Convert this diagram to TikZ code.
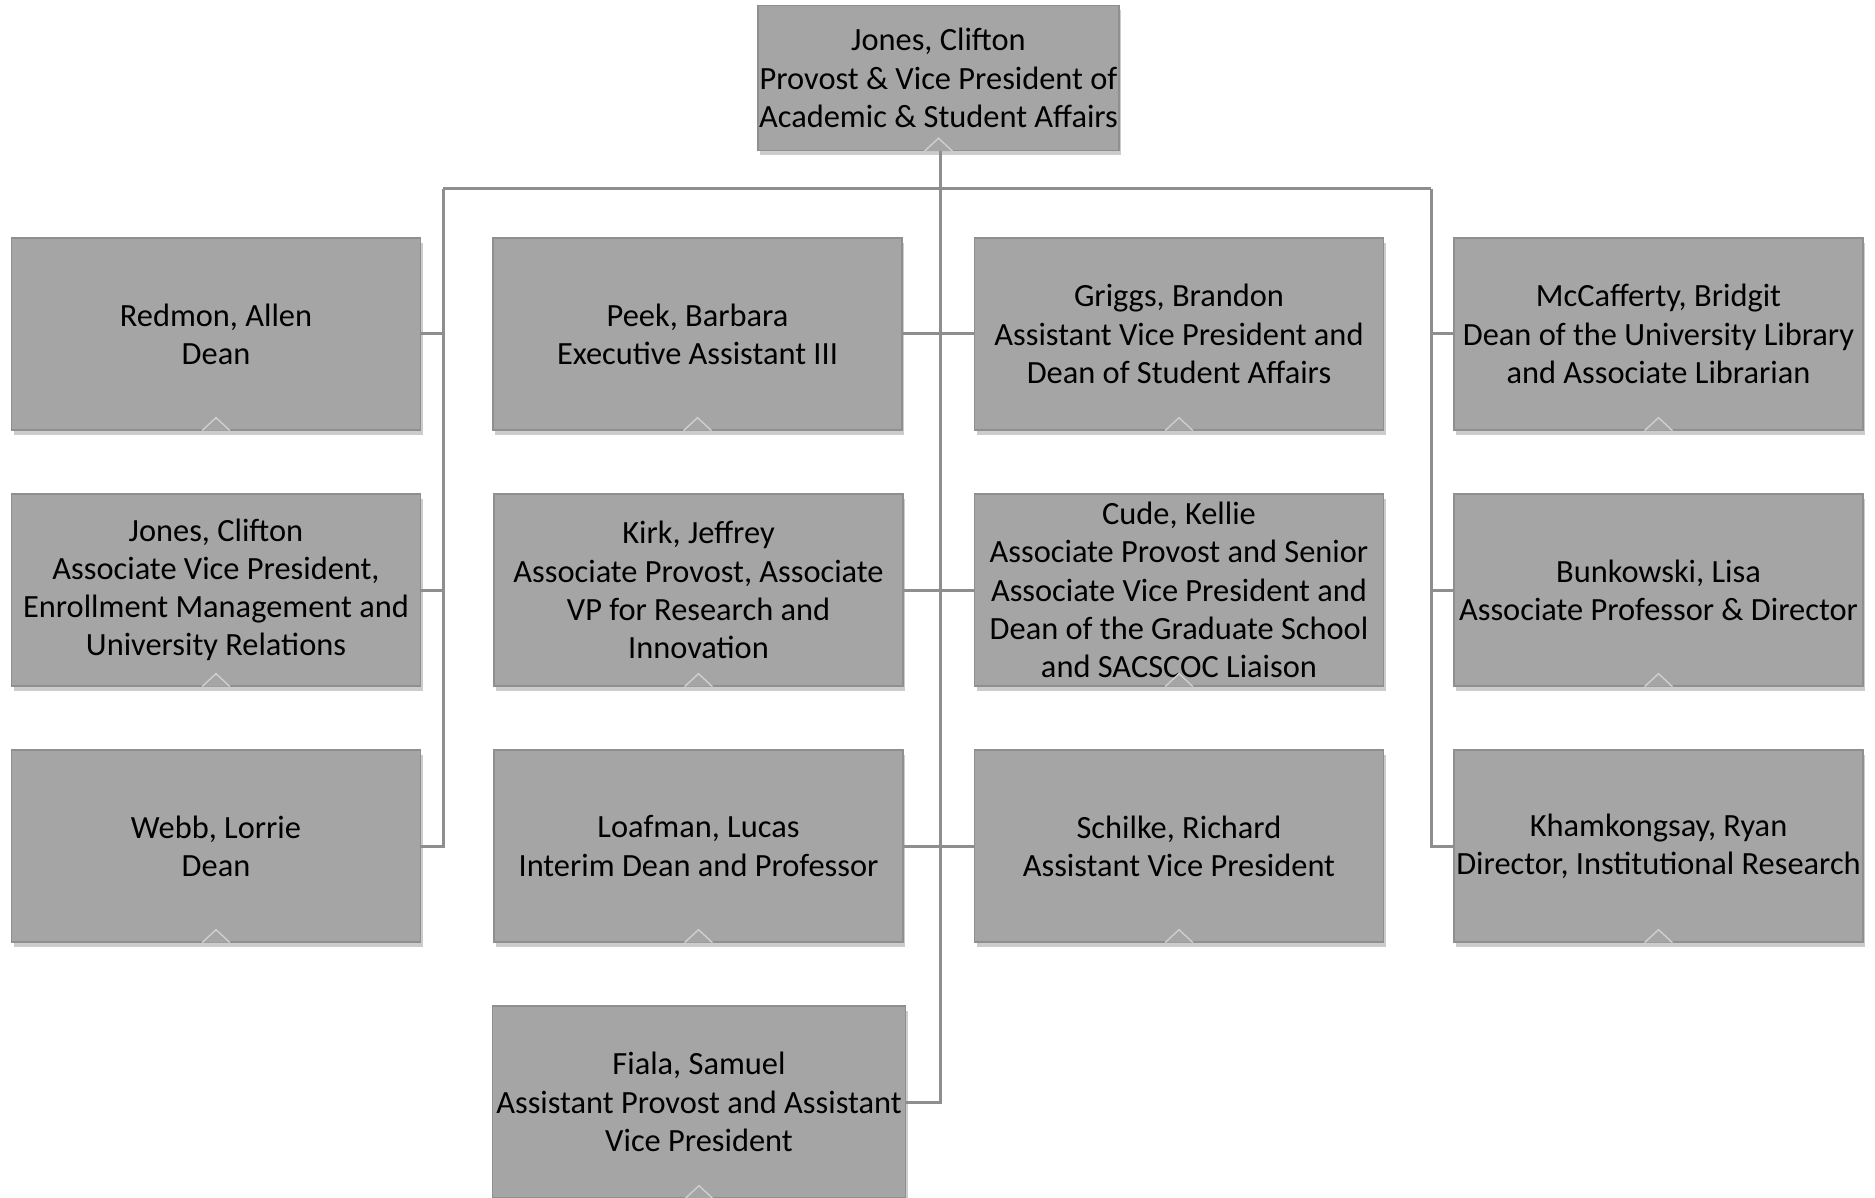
\documentclass[tikz,border=0pt]{standalone}
\usepackage{fontspec}
\setmainfont{Carlito}
\usetikzlibrary{shadows}
\definecolor{boxfill}{HTML}{A5A5A5}
\definecolor{boxline}{HTML}{8F8F8F}
\definecolor{linkgray}{HTML}{8E8E8E}
\definecolor{notchline}{HTML}{CFCFCF}

\begin{document}
\begin{tikzpicture}[x=0.5pt, y=-0.5pt,
    person/.style={draw=boxline, fill=boxfill, line width=0.7pt, inner sep=0pt,
        minimum width=204.5pt, minimum height=96pt, align=center,
        font=\fontsize{16.2}{19.1}\selectfont,
        drop shadow={shadow xshift=1pt, shadow yshift=-2.5pt, opacity=0.4}},
    link/.style={draw=linkgray, line width=1.5pt},
    notch/.style={fill=boxfill, draw=notchline, line width=0.7pt}]
\useasboundingbox (0,0) rectangle (1875,1198);
% Draw top box
\node[person, minimum width=180.5pt, minimum height=72.5pt] (provost) at (938.5,78)
    {Jones, Clifton\\Provost \& Vice President of\\Academic \& Student Affairs};
% Draw first column
\node[person] (redmon) at (216,334) {Redmon, Allen\\Dean};
\node[person] (jonesavp) at (216,590) {Jones, Clifton\\Associate Vice President,\\Enrollment Management and\\University Relations};
\node[person] (webb) at (216,846) {Webb, Lorrie\\Dean};
% Draw second column
\node[person] (peek) at (697.5,334) {Peek, Barbara\\Executive Assistant III};
\node[person] (kirk) at (698.5,590) {Kirk, Jeffrey\\Associate Provost, Associate\\VP for Research and\\Innovation};
\node[person] (loafman) at (698.5,846) {Loafman, Lucas\\Interim Dean and Professor};
\node[person, minimum width=206.5pt] (fiala) at (699,1102) {Fiala, Samuel\\Assistant Provost and Assistant\\Vice President};
% Draw third column
\node[person] (griggs) at (1179,334) {Griggs, Brandon\\Assistant Vice President and\\Dean of Student Affairs};
\node[person] (cude) at (1179,590) {Cude, Kellie\\Associate Provost and Senior\\Associate Vice President and\\Dean of the Graduate School\\and SACSCOC Liaison};
\node[person] (schilke) at (1179,846) {Schilke, Richard\\Assistant Vice President};
% Draw fourth column
\node[person] (mccafferty) at (1658.5,334) {McCafferty, Bridgit\\Dean of the University Library\\and Associate Librarian};
\node[person] (bunkowski) at (1658.5,590) {Bunkowski, Lisa\\Associate Professor \& Director};
\node[person] (khamkongsay) at (1658.5,846) {Khamkongsay, Ryan\\Director, Institutional Research};
% Draw notches
\foreach \n in {provost,redmon,jonesavp,webb,peek,kirk,loafman,fiala,griggs,cude,schilke,mccafferty,bunkowski,khamkongsay}
    \draw[notch] ([xshift=-7pt]\n.south) -- ([yshift=6.5pt]\n.south) -- ([xshift=7pt]\n.south);
% Draw connectors
\coordinate (busL) at (443,189);
\coordinate (busR) at (1431,189);
\draw[link] (busL) -- (busR);
\draw[link] (busL) |- (webb.east);
\draw[link] (busR) |- (khamkongsay.west);
\foreach \n in {redmon,jonesavp}
    \draw[link] (\n.east) -- (\n.east -| busL);
\foreach \n in {mccafferty,bunkowski}
    \draw[link] (\n.west) -- (\n.west -| busR);
\draw[link] ([xshift=0.75pt]provost.south) |- (fiala.east);
\draw[link] (peek.east) -- (griggs.west);
\draw[link] (kirk.east) -- (cude.west);
\draw[link] (loafman.east) -- (schilke.west);
\end{tikzpicture}
\end{document}
